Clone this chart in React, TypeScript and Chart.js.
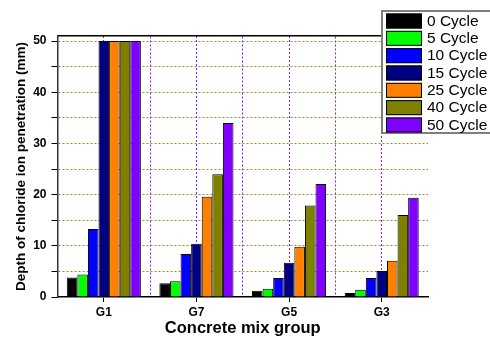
import React, { useEffect, useRef } from 'react';
import { Chart, registerables } from 'chart.js';

Chart.register(...registerables);

const groups = ['G1', 'G7', 'G5', 'G3'];
const cycleLabels = ['0 Cycle', '5 Cycle', '10 Cycle', '15 Cycle', '25 Cycle', '40 Cycle', '50 Cycle'];
const cycle0 = [3.8, 2.7, 1.2, 0.8];
const cycle5 = [4.4, 3.1, 1.6, 1.4];
const cycle10 = [13.3, 8.4, 3.7, 3.7];
const cycle15 = [50, 10.4, 6.7, 5.1];
const cycle25 = [50, 19.6, 9.8, 7.1];
const cycle40 = [50, 24.0, 17.9, 16.0];
const cycle50 = [50, 34.0, 22.1, 19.4];
const seriesValues = [cycle0, cycle5, cycle10, cycle15, cycle25, cycle40, cycle50];
const seriesColors = ['#000000', '#00ff00', '#0000ff', '#000080', '#ff8000', '#808000', '#8000ff'];
const yTickLabels = [0, 10, 20, 30, 40, 50];

const FONT = "'Liberation Sans', Arial, Helvetica, sans-serif";
const PURPLE = '#8a1cff';
const OLIVE = 'rgba(128,128,0,0.85)';

const boxLegend = {
  id: 'boxLegend',
  afterDraw(chart: any) {
    const ctx = chart.ctx;
    ctx.save();
    const x = 382, y = 11, w = 120, h = 122;
    ctx.fillStyle = '#ffffff';
    ctx.fillRect(x, y, w, h);
    ctx.strokeStyle = '#7f7f7f';
    ctx.lineWidth = 2;
    ctx.strokeRect(x, y, w, h);
    ctx.font = `15.5px ${FONT}`;
    ctx.textBaseline = 'middle';
    ctx.textAlign = 'left';
    chart.data.datasets.forEach((ds: any, i: number) => {
      const ry = 13.5 + i * 17.33;
      ctx.fillStyle = ds.backgroundColor;
      ctx.fillRect(386, ry, 36, 15);
      ctx.strokeStyle = '#000';
      ctx.lineWidth = 1;
      ctx.strokeRect(386.5, ry + 0.5, 35, 14);
      ctx.fillStyle = '#000';
      ctx.fillText(ds.label, 427, ry + 8);
    });
    ctx.restore();
  },
};

export default function App() {
  const ref = useRef<HTMLCanvasElement | null>(null);
  useEffect(() => {
    if (!ref.current) return;
    Chart.defaults.font.family = FONT;
    const chart = new Chart(ref.current, {
      type: 'bar',
      data: {
        labels: groups,
        datasets: seriesValues.map((vals, i) => ({
          label: cycleLabels[i],
          data: vals,
          backgroundColor: seriesColors[i],
          borderColor: '#000000',
          borderWidth: 1,
          categoryPercentage: 0.8,
          barPercentage: 1.0,
        })),
      },
      options: {
        responsive: false,
        animation: false,
        layout: { padding: { left: 9, top: 36, right: 62, bottom: 0 } },
        plugins: { legend: { display: false }, tooltip: { enabled: false } },
        scales: {
          x: {
            type: 'category',
            position: 'bottom',
            offset: true,
            grid: { offset: false, color: PURPLE, lineWidth: 1, tickColor: '#000', tickLength: 5, drawTicks: true },
            border: { display: true, color: '#000', width: 1.5, dash: [2, 2] },
            ticks: { font: { family: FONT, size: 12, weight: 'bold' }, color: '#000', padding: 3 },
            title: { display: true, text: 'Concrete mix group', font: { family: FONT, size: 16.5, weight: 'bold' }, color: '#000', padding: 0 },
            afterFit: (s: any) => { s.height = 41; },
          },
          x2: {
            type: 'category',
            labels: groups,
            position: 'top',
            offset: true,
            grid: {
              offset: true,
              drawTicks: false,
              color: (c: any) => (c.type === 'tick' && c.index > 0 ? PURPLE : 'rgba(0,0,0,0)'),
            },
            border: { display: true, color: '#000', width: 1.5, dash: [2, 2] },
            ticks: { display: false },
            afterFit: (s: any) => { s.height = 0; },
          },
          y: {
            min: 0,
            max: 51,
            ticks: {
              stepSize: 5,
              includeBounds: false,
              callback: (v: any) => (yTickLabels.includes(Number(v)) ? String(v) : ''),
              font: { family: FONT, size: 12, weight: 'bold' },
              color: '#000',
              padding: 5,
            },
            grid: {
              color: (c: any) => (c.tick && c.tick.value === 0 ? 'rgba(0,0,0,0)' : OLIVE),
              tickColor: '#000',
              tickLength: 6,
              drawTicks: true,
            },
            border: { display: true, color: '#333', width: 1.5, dash: [2, 2] },
            title: {
              display: true,
              text: 'Depth of chloride ion penetration (mm)',
              font: { family: FONT, size: 13.5, weight: 'bold' },
              color: '#000',
              padding: { top: 4, bottom: 4 },
            },
            afterFit: (s: any) => { s.width = 48.5; },
          },
        },
      } as any,
      plugins: [boxLegend],
    });
    return () => chart.destroy();
  }, []);
  return (
    <div style={{ position: 'absolute', left: 0, top: 0, width: 490, height: 338, background: '#fff' }}>
      <canvas ref={ref} width={490} height={338} />
    </div>
  );
}
